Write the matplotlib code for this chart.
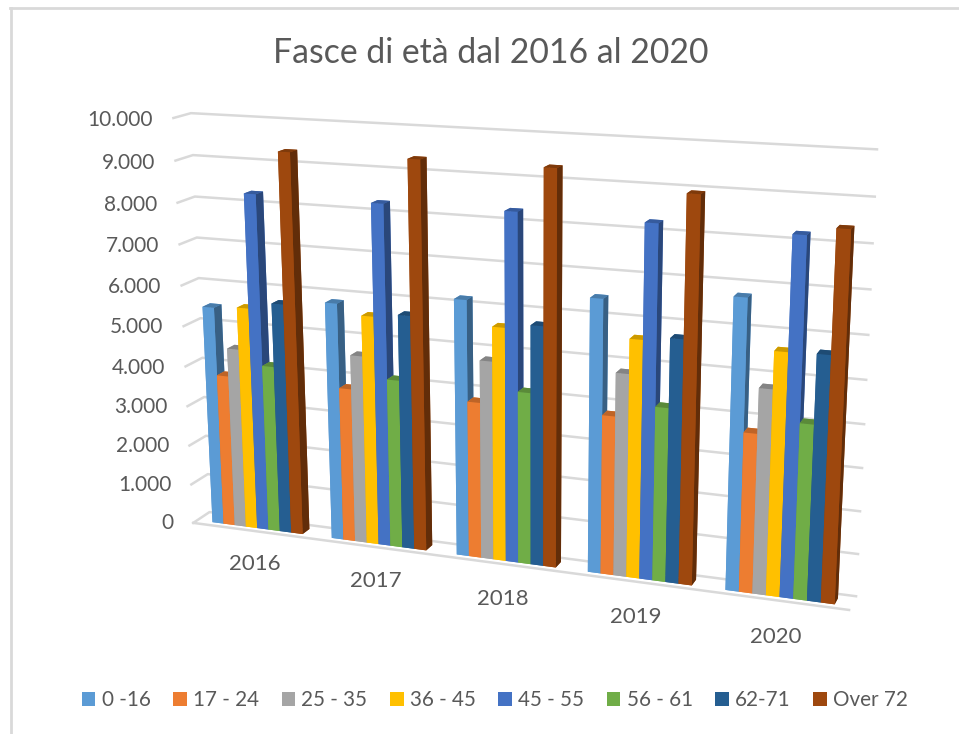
import matplotlib
matplotlib.use("Agg")
import matplotlib.pyplot as plt
from matplotlib.colors import to_rgb
from matplotlib.lines import Line2D
from matplotlib.patches import Patch
from mpl_toolkits.mplot3d import proj3d

plt.rcParams["font.family"] = ["Lato", "DejaVu Sans"]

years = ["2016", "2017", "2018", "2019", "2020"]
age_groups = ["0 -16", "17 - 24", "25 - 35", "36 - 45", "45 - 55", "56 - 61", "62-71", "Over 72"]
colors = ["#5B9BD5", "#ED7D31", "#A5A5A5", "#FFC000", "#4472C4", "#70AD47", "#255E91", "#9E480E"]
y_ticks = [0, 1000, 2000, 3000, 4000, 5000, 6000, 7000, 8000, 9000, 10000]
y_tick_labels = ["0", "1.000", "2.000", "3.000", "4.000", "5.000", "6.000", "7.000", "8.000", "9.000", "10.000"]

# one list per year, same order as age_groups
v2016 = [5465, 3790, 4485, 5520, 8285, 4140, 5695, 9320]
v2017 = [5830, 3785, 4615, 5595, 8265, 4115, 5690, 9330]
v2018 = [6180, 3780, 4790, 5610, 8290, 4135, 5725, 9320]
v2019 = [6470, 3790, 4805, 5615, 8245, 4110, 5710, 8940]
v2020 = [6760, 3730, 4770, 5630, 8210, 4070, 5650, 8400]
values = [v2016, v2017, v2018, v2019, v2020]

W, H = 959, 734
GRID = "#d9d9d9"
TEXT = "#595959"

fig = plt.figure(figsize=(W / 100, H / 100), dpi=100)

# camera fitted to the corners of the reference box
S = 1400
ax = fig.add_axes([((W - S) / 2 + 8.4) / W, ((H - S) / 2 - 3.5) / H, S / W, S / H], projection="3d")
ax.set_xlim(0, 5)
ax.set_ylim(0, 1)
ax.set_zlim(0, 10000)
ax.view_init(15.2438, -69.6794, 0.2156)
ax.set_proj_type("persp", focal_length=0.2565)
ax.set_box_aspect((1, 0.0511, 0.6178), zoom=0.5810)
ax.set_axis_off()
ax.computed_zorder = False


def shade(color, factor):
    return tuple(c * factor for c in to_rgb(color))


def label_at(x, y, z, text, **kwargs):
    """Place a flat label at a point of the 3D box."""
    px, py, _ = proj3d.proj_transform(x, y, z, ax.get_proj())
    ax.text2D(px, py, text, transform=ax.transData, color=TEXT, zorder=100, **kwargs)


for z in y_ticks:
    ax.plot([0, 0, 5], [0, 1, 1], [z, z, z], color=GRID, lw=1.8, zorder=0)
ax.plot([0, 5], [0, 0], [0, 0], color=GRID, lw=1.8, zorder=0)

group_start = 0.13
bar_w = 0.76 / len(age_groups)
order = 1
for i, row in enumerate(values):
    for j, v in enumerate(row):
        c = colors[j]
        # faces: bottom, top, front, back, left, right
        faces = [c, shade(c, 0.8), c, c, c, shade(c, 0.62)]
        ax.bar3d(i + group_start + j * bar_w, 0.25, 0, bar_w, 0.45, v,
                 color=faces, shade=False, linewidth=0, zorder=order)
        order += 1

for z, label in zip(y_ticks, y_tick_labels):
    label_at(-0.17, 0, z - 80, label, ha="right", va="center", fontsize=15)
for i, label in enumerate(years):
    label_at(i + 0.51, 0, -870, label, ha="center", va="center", fontsize=16)

fig.text(491 / W, 1 - 53 / H, "Fasce di età dal 2016 al 2020", ha="center", va="center",
         fontsize=24.3, color=TEXT)

handles = [Patch(facecolor=c, edgecolor="none") for c in colors]
fig.legend(handles, age_groups, loc="center", bbox_to_anchor=(495 / W, 1 - 700 / H), ncol=8,
           frameon=False, fontsize=14.9, labelcolor=TEXT, handlelength=0.65, handleheight=0.65,
           handletextpad=0.3, columnspacing=1.1, borderpad=0)

# screenshot frame on the left and top
fig.add_artist(Line2D([10.5 / W, 10.5 / W], [0, 1 - 8 / H], color=GRID, lw=2))
fig.add_artist(Line2D([10 / W, 1], [1 - 8 / H, 1 - 8 / H], color=GRID, lw=2))

fig.savefig("out.png", dpi=100)
